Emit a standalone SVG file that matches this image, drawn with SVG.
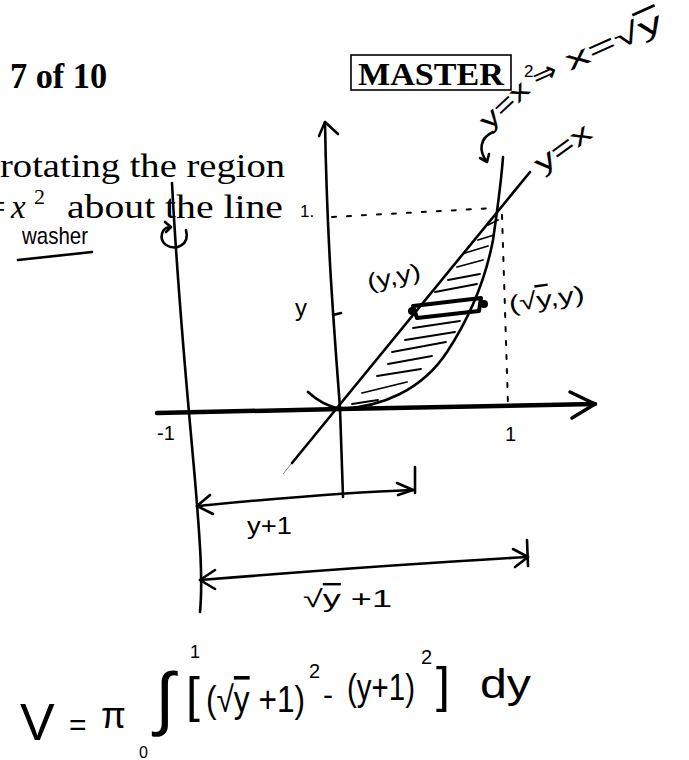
<svg xmlns="http://www.w3.org/2000/svg" width="689" height="760" viewBox="0 0 689 760">
<style>
.pen{fill:none;stroke:#000;stroke-width:2.6;stroke-linecap:round;stroke-linejoin:round}
.thin{fill:none;stroke:#000;stroke-width:1.8;stroke-linecap:round}
.dot{fill:none;stroke:#000;stroke-width:2;stroke-linecap:round}
.tex{font-family:"Liberation Serif","DejaVu Serif",serif;fill:#000}
.texb{font-family:"Liberation Serif","DejaVu Serif",serif;font-weight:bold;fill:#000}
.hw{font-family:"Liberation Sans","DejaVu Sans",sans-serif;fill:#000}
.ov{text-decoration:overline}
</style>
<rect width="689" height="760" fill="#fff"/>
<g id="header">
<text class="texb" x="10" y="88" font-size="35" textLength="97" lengthAdjust="spacingAndGlyphs">7 of 10</text>
<rect x="351" y="55" width="160" height="35" fill="none" stroke="#000" stroke-width="1.6"/>
<text class="texb" x="358" y="85" font-size="31" textLength="146" lengthAdjust="spacingAndGlyphs">MASTER</text>
</g>
<g id="question">
<text class="tex" x="0" y="177" font-size="33" textLength="285" lengthAdjust="spacingAndGlyphs">rotating the region</text>
<text class="tex" x="-13" y="218" font-size="33">=</text>
<text class="tex" x="11" y="218" font-size="33" font-style="italic">x</text>
<text class="tex" x="34" y="204" font-size="22">2</text>
<text class="tex" x="67" y="218" font-size="33" textLength="216" lengthAdjust="spacingAndGlyphs">about the line</text>
</g>
<g id="washer-note">
<text class="hw" x="22" y="244" font-size="24" textLength="66" lengthAdjust="spacingAndGlyphs">washer</text>
<path class="pen" d="M18,260 L92,252"/>
<path class="pen" d="M186,230 C190,245 176,251 166,245 C158,239 162,226 171,227 M165,222 L171,227 L166,232"/>
</g>
<g id="equation-label">
<text class="hw" font-size="26" textLength="58" lengthAdjust="spacingAndGlyphs" transform="translate(489,131) rotate(-43)">y=x</text>
<text class="hw" x="524" y="77" font-size="17">2</text>
<text class="hw" font-size="30" font-family="DejaVu Sans" transform="translate(537,88) rotate(-24)">⇒</text>
<text class="hw" font-size="28" textLength="104" lengthAdjust="spacingAndGlyphs" transform="translate(570,71) rotate(-24)">x=√<tspan class="ov">y</tspan></text>
<path class="pen" d="M493,132 C480,138 478,150 487,162 M480,158 L487,162 L489,154"/>
<text class="hw" font-size="27" textLength="64" lengthAdjust="spacingAndGlyphs" transform="translate(542,174) rotate(-36)">y=x</text>
</g>
<g id="axes">
<path class="pen" d="M325,122 C327,240 333,315 340,408 L343,497"/>
<path class="pen" d="M319,136 L325,122 L338,134"/>
<path class="pen" d="M172,183 C178,300 188,400 195,480 C200,540 203,580 200,612"/>
<path fill="none" stroke="#000" stroke-width="4.5" stroke-linecap="round" d="M157,413 L340,409 L595,404"/>
<path fill="none" stroke="#000" stroke-width="3.5" stroke-linecap="round" stroke-linejoin="round" d="M570,392 L595,404 L572,418"/>
<text class="hw" x="157" y="440" font-size="20">-1</text>
<text class="hw" x="505" y="441" font-size="20">1</text>
<text class="hw" x="300" y="217" font-size="17">1.</text>
<path class="dot" stroke-dasharray="4 11" d="M332,217 L495,208"/>
<path class="dot" stroke-dasharray="4 10" d="M502,215 L508,405"/>
</g>
<g id="curves">
<path fill="none" stroke="#888" stroke-width="1" d="M283,474 L292,463"/>
<path class="pen" d="M292,463 L530,172"/>
<path class="pen" d="M308,392 Q322,405 340,409 C382,407 422,390 447,352 C468,320 485,282 493,240 C497,212 501,185 503,157"/>
</g>
<g id="hatching">
<path class="thin" d="M488,225 L498,220 M478,240 L494,235 M465,253 L488,246 M457,267 L483,260 M448,280 L480,274 M435,292 L477,284 M413,328 L460,321 M405,340 L455,332 M392,352 L446,342 M388,364 L432,356 M377,376 L421,369 M362,393 L407,382 M352,404 L378,400"/>
</g>
<g id="washer">
<path fill="none" stroke="#000" stroke-width="4" stroke-linejoin="round" d="M413,306 L481,298 L479,311 L417,318 Z"/>
<circle cx="412" cy="311" r="4"/>
<circle cx="484" cy="304" r="4"/>
</g>
<g id="point-labels">
<text class="hw" font-size="23" textLength="54" lengthAdjust="spacingAndGlyphs" transform="translate(369,290) rotate(-12)">(y,y)</text>
<text class="hw" font-size="23" textLength="76" lengthAdjust="spacingAndGlyphs" transform="translate(510,312) rotate(-8)">(√<tspan class="ov">y</tspan>,y)</text>
<text class="hw" x="295" y="316" font-size="24">y</text>
<path class="pen" d="M333,315 L341,313"/>
</g>
<g id="radii">
<path class="pen" d="M197,506 C260,500 330,493 413,490"/>
<path class="pen" d="M210,495 L197,506 L213,514 M397,483 L413,490 L398,495 M415,467 L415,493"/>
<text class="hw" x="247" y="534" font-size="24" textLength="45" lengthAdjust="spacingAndGlyphs">y+1</text>
<path class="pen" d="M200,580 C300,572 420,563 528,557"/>
<path class="pen" d="M215,570 L200,580 L215,589 M513,549 L528,557 L515,567 M527,540 L528,566"/>
<text class="hw" x="303" y="607" font-size="24" textLength="89" lengthAdjust="spacingAndGlyphs">√<tspan class="ov">y</tspan> +1</text>
</g>
<g id="integral">
<text class="hw" x="20" y="740" font-size="52">V</text>
<text class="hw" x="69" y="735" font-size="30">=</text>
<text class="hw" x="101" y="728" font-size="36">π</text>
<text class="hw" x="155" y="722" font-size="70" font-family="DejaVu Sans">∫</text>
<text class="hw" x="190" y="658" font-size="18">1</text>
<text class="hw" x="139" y="758" font-size="16">0</text>
<text class="hw" x="186" y="712" font-size="50">[</text>
<text class="hw" x="206" y="712" font-size="36" textLength="99" lengthAdjust="spacingAndGlyphs">(√<tspan class="ov">y</tspan> +1)</text>
<text class="hw" x="309" y="678" font-size="20">2</text>
<text class="hw" x="323" y="705" font-size="30">-</text>
<text class="hw" x="347" y="700" font-size="36" textLength="68" lengthAdjust="spacingAndGlyphs">(y+1)</text>
<text class="hw" x="421" y="664" font-size="20">2</text>
<text class="hw" x="436" y="702" font-size="50">]</text>
<text class="hw" x="480" y="698" font-size="40" textLength="51" lengthAdjust="spacingAndGlyphs">dy</text>
</g>
</svg>
